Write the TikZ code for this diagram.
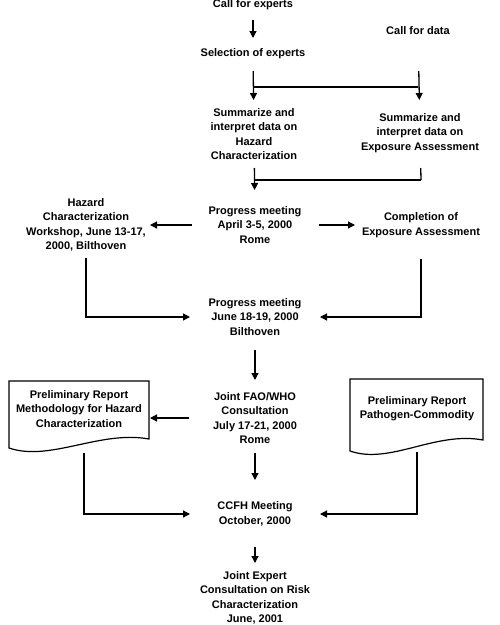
\documentclass[tikz,border=0pt]{standalone}
\usepackage{fontspec}
\setmainfont{Liberation Sans}
\usetikzlibrary{arrows.meta}
\begin{document}
\begin{tikzpicture}[x=1pt,y=-1pt,
  lbl/.style={align=center,font=\fontsize{11}{14.3}\selectfont\bfseries,inner sep=0pt},
  conn/.style={line width=1.3pt},
  arr/.style={conn,-{Triangle[length=7pt,width=7pt]}},
  docshape/.style={line width=1.2pt,line join=miter}]
\useasboundingbox (0,0) rectangle (500,625);
% nodes
\node[lbl] (callexp) at (253,5) {Call for experts};
\node[lbl] (selexp) at (253,54) {Selection of experts};
\node[lbl] (calldata) at (418,31) {Call for data};
\node[lbl] (sumL) at (254,134) {Summarize and\\interpret data on\\Hazard\\Characterization};
\node[lbl] (sumR) at (420,133) {Summarize and\\interpret data on\\Exposure Assessment};
\node[lbl] (prog1) at (255,225) {Progress meeting\\April 3-5, 2000\\Rome};
\node[lbl] (hazW) at (86,225) {Hazard\\Characterization\\Workshop, June 13-17,\\2000, Bilthoven};
\node[lbl] (complE) at (421,225) {Completion of\\Exposure Assessment};
\node[lbl] (prog2) at (255,317) {Progress meeting\\June 18-19, 2000\\Bilthoven};
\node[lbl] (joint) at (255,418) {Joint FAO/WHO\\Consultation\\July 17-21, 2000\\Rome};
\node[lbl] (docL) at (79,409) {Preliminary Report\\Methodology for Hazard\\Characterization};
\node[lbl] (docR) at (417,409) {Preliminary Report\\Pathogen-Commodity};
\node[lbl] (ccfh) at (255,514) {CCFH Meeting\\October, 2000};
\node[lbl] (jexp) at (255,598) {Joint Expert\\Consultation on Risk\\Characterization\\June, 2001};
% document shapes
\draw[docshape] (9,448) -- (9,381) -- (149,381) -- (149,439)
  .. controls (100,430) and (50,462) .. (9,448) -- cycle;
\draw[docshape] (350,451) -- (350,379) -- (483,379) -- (483,440)
  .. controls (435,431) and (390,465) .. (350,451) -- cycle;
\coordinate (docLr) at (150,418);
\coordinate (docLb) at (84,453);
\coordinate (docRb) at (417,452);
% junction coordinates
\coordinate (fkL) at (254,87);
\coordinate (fkR) at (418,87);
\coordinate (j1) at (255,180);
\coordinate (j2) at (421,180);
% connectors
\draw[arr,shorten <=15pt,shorten >=16pt] (callexp.center) -- (selexp.center);
\draw[arr,shorten <=17pt,shorten >=34pt] (selexp.center) -- (sumL.center);
\draw[arr,shorten <=40pt,shorten >=33pt] (calldata.center) -- (sumR.center);
\draw[conn] (fkL) -- (fkR);
\draw[arr,shorten <=34pt,shorten >=35pt] (sumL.center) -- (prog1.center);
\draw[conn,shorten <=35pt] (sumR.center) -- (j2);
\draw[conn] (j2) -- (j1);
\draw[arr,shorten <=63pt,shorten >=64pt] (prog1.center) -- (hazW.center);
\draw[arr,shorten <=64pt,shorten >=66pt] (prog1.center) -- (complE.center);
\draw[arr,shorten <=33pt,shorten >=65pt] (hazW.center) |- (prog2.center);
\draw[arr,shorten <=34pt,shorten >=65pt] (complE.center) |- (prog2.center);
\draw[arr,shorten <=33pt,shorten >=38pt] (prog2.center) -- (joint.center);
\draw[arr,shorten <=66pt] (joint.center) -- (docLr);
\draw[arr,shorten >=65pt] (docLb) |- (ccfh.center);
\draw[arr,shorten >=65pt] (docRb) |- (ccfh.center);
\draw[arr,shorten <=35pt,shorten >=34pt] (joint.center) -- (ccfh.center);
\draw[arr,shorten <=33pt,shorten >=35pt] (ccfh.center) -- (jexp.center);
\end{tikzpicture}
\end{document}
